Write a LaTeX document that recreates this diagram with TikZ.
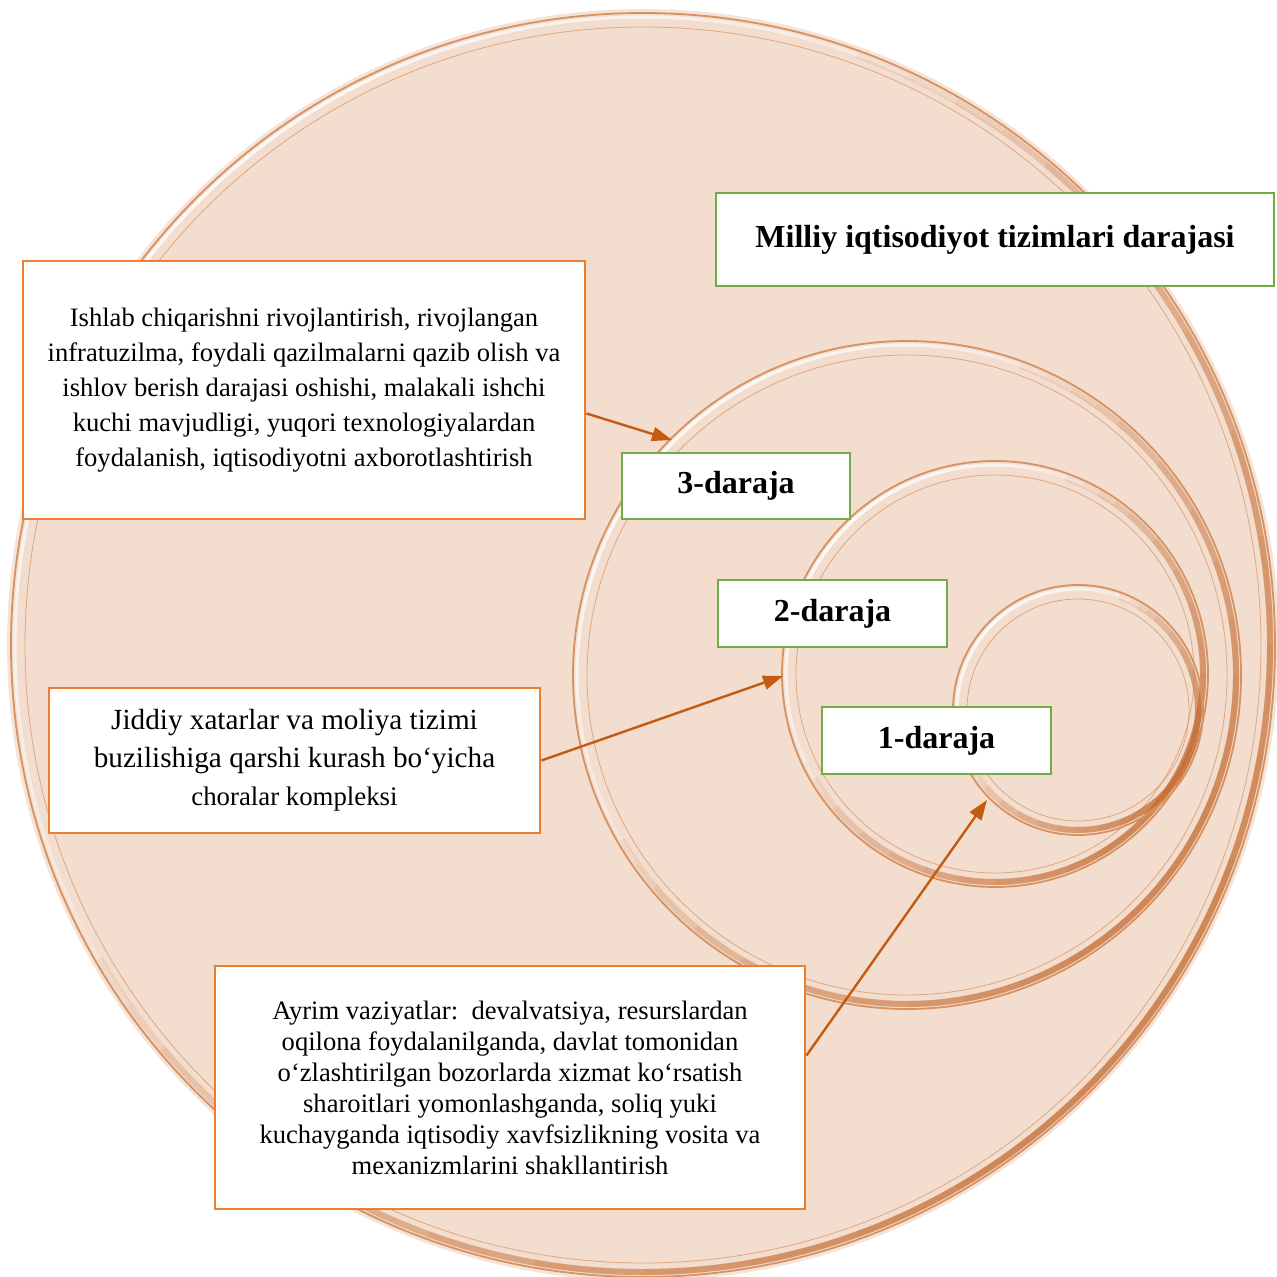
\documentclass[tikz,border=0pt]{standalone}
\usepackage{fontspec}
\setmainfont{Liberation Serif}
\usetikzlibrary{arrows.meta,calc}
\definecolor{peach}{RGB}{242,221,206}
\definecolor{rimorange}{RGB}{216,145,96}
\definecolor{rimdark}{RGB}{200,110,52}
\definecolor{boxorange}{RGB}{237,125,49}
\definecolor{boxgreen}{RGB}{112,173,71}
\definecolor{arroworange}{RGB}{197,90,17}

\begin{document}
\begin{tikzpicture}[x=0.5pt,y=0.5pt,yscale=-1,xscale=1,
  rim/.style={draw=rimorange,line width=0.9pt},
  rimlight/.style={draw=white,line width=1.6pt,opacity=0.22},
  rimshade/.style={draw=rimdark,line width=3pt,opacity=0.13},
  riminner/.style={draw=rimorange,line width=0.4pt,opacity=0.7},
  orangebox/.style={draw=boxorange,line width=1.4pt,fill=white,align=center,inner sep=0pt},
  greenbox/.style={draw=boxgreen,line width=1.4pt,fill=white,align=center,inner sep=0pt},
  pointer/.style={draw=arroworange,line width=1.2pt,-{Triangle[length=10pt,width=7pt]}}]
\useasboundingbox (0,0) rectangle (1277,1277);

%Shape: Circle (outer disc)
	\fill[peach] (643,645) circle [radius=632];
	\draw[rimorange,line width=2pt,opacity=0.25] (643,645) circle [radius=634];

%Shape: Rings
\foreach \cx/\cy/\r in {643/645/632, 907/675/334, 995/674/213, 1078/710/125}{
	\draw[rim] (\cx,\cy) circle [radius=\r];
	\foreach \h in {110,100,...,20}
		\draw[rimshade] (\cx,\cy) ++({40-\h}:{\r-5}) arc [start angle={40-\h}, end angle={40+\h}, radius={\r-5}];
	\foreach \h in {80,70,...,10}
		\draw[rimlight] (\cx,\cy) ++({225-\h}:{\r-4}) arc [start angle={225-\h}, end angle={225+\h}, radius={\r-4}];
	\draw[riminner] (\cx,\cy) circle [radius={\r-14}];
}

% Text Node
	\node[greenbox,minimum width=279pt,minimum height=46.5pt,font=\fontsize{16}{19}\selectfont\bfseries] (milliy) at (995,239.5) {Milliy iqtisodiyot tizimlari darajasi};
% Text Node
	\node[orangebox,minimum width=281pt,minimum height=129pt,font=\fontsize{13.3}{17.5}\selectfont] (ishlab) at (304,390) {Ishlab chiqarishni rivojlantirish, rivojlangan\\infratuzilma, foydali qazilmalarni qazib olish va\\ishlov berish darajasi oshishi, malakali ishchi\\kuchi mavjudligi, yuqori texnologiyalardan\\foydalanish, iqtisodiyotni axborotlashtirish};
% Text Node
	\node[greenbox,minimum width=114pt,minimum height=33pt,font=\fontsize{16}{19}\selectfont\bfseries] (daraja3) at (736,486) {3-daraja};
% Text Node
	\node[greenbox,minimum width=114.5pt,minimum height=33.5pt,font=\fontsize{16}{19}\selectfont\bfseries] (daraja2) at (832.5,613.5) {2-daraja};
% Text Node
	\node[greenbox,minimum width=114.5pt,minimum height=33.5pt,font=\fontsize{16}{19}\selectfont\bfseries] (daraja1) at (936.5,740.5) {1-daraja};
% Text Node
	\node[orangebox,minimum width=245.5pt,minimum height=72.5pt,font=\fontsize{14.6}{19}\selectfont] (jiddiy) at (294.5,760.5) {Jiddiy xatarlar va moliya tizimi\\buzilishiga qarshi kurash bo‘yicha\\{\fontsize{13.4}{19}\selectfont choralar kompleksi}};
% Text Node
	\node[orangebox,minimum width=295pt,minimum height=121.5pt,font=\fontsize{13.3}{15.5}\selectfont] (ayrim) at (510,1087.5) {Ayrim vaziyatlar:\ \ devalvatsiya, resurslardan\\oqilona foydalanilganda, davlat tomonidan\\o‘zlashtirilgan bozorlarda xizmat ko‘rsatish\\sharoitlari yomonlashganda, soliq yuki\\kuchayganda iqtisodiy xavfsizlikning vosita va\\mexanizmlarini shakllantirish};

%Straight Lines (pointers to the rings)
	\coordinate (hit3) at (672,440);
	\coordinate (hit2) at (783,676);
	\coordinate (hit1) at (987,800);
	\draw[pointer] ($(ishlab.north east)!0.59!(ishlab.south east)$) -- (hit3);
	\draw[pointer] (jiddiy.east) -- (hit2);
	\draw[pointer] ($(ayrim.north east)!0.37!(ayrim.south east)$) -- (hit1);

\end{tikzpicture}
\end{document}
